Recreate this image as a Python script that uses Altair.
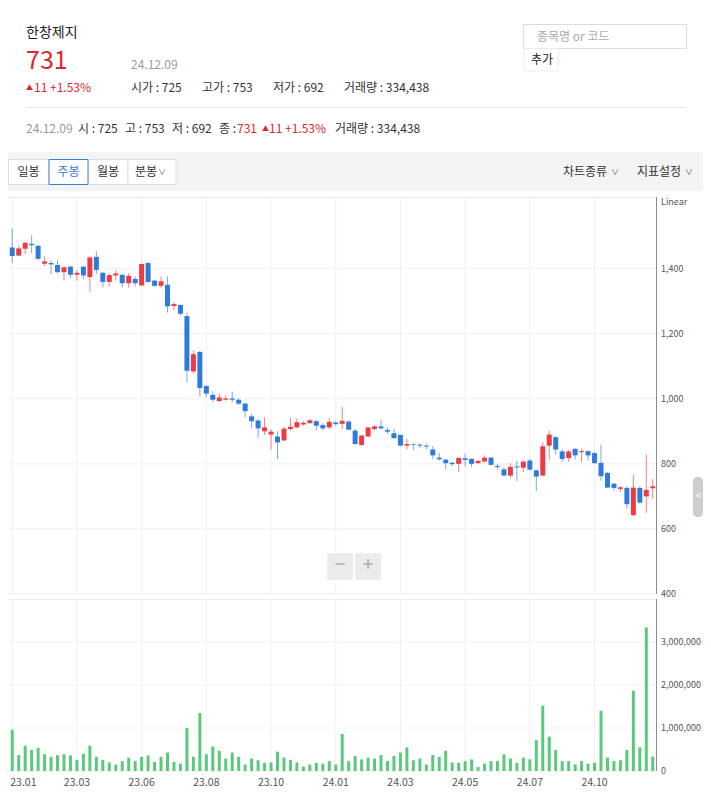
import altair as alt
import pandas as pd

FONT = "Noto Sans CJK KR"
RED = "#ec3b43"
BLUE = "#2f7bdc"
GREEN = "#5bc97c"
TXT_RED = "#e0262d"

# weekly candles 2023-01-16 .. 2024-12-09
dates = [d.strftime("%Y-%m-%d") for d in pd.date_range("2023-01-16", periods=100, freq="7D")]

opens = [1465, 1440, 1461, 1476, 1470, 1415, 1417, 1411, 1389, 1406,
         1381, 1406, 1374, 1436, 1387, 1359, 1379, 1381, 1355, 1368,
         1348, 1417, 1363, 1347, 1350, 1285, 1288, 1254, 1084, 1144,
         1039, 1012, 993, 997, 1001, 997, 985, 946, 933, 900,
         890, 884, 872, 907, 912, 921, 925, 931, 919, 912,
         927, 923, 930, 902, 858, 884, 907, 915, 904, 894,
         889, 856, 861, 859, 856, 844, 819, 813, 803, 800,
         817, 815, 802, 807, 819, 793, 783, 764, 792, 788,
         810, 780, 764, 856, 882, 838, 818, 846, 836, 839,
         833, 803, 772, 739, 723, 726, 642, 726, 700, 725]
highs = [1524, 1469, 1483, 1502, 1472, 1437, 1425, 1425, 1406, 1409,
         1396, 1408, 1439, 1453, 1389, 1386, 1395, 1382, 1386, 1376,
         1416, 1421, 1365, 1376, 1376, 1297, 1290, 1264, 1149, 1147,
         1043, 1023, 1016, 1011, 1022, 1001, 988, 953, 938, 943,
         907, 900, 915, 941, 941, 931, 938, 935, 925, 941,
         931, 976, 933, 907, 889, 914, 919, 936, 912, 907,
         889, 877, 863, 863, 863, 854, 834, 815, 807, 820,
         831, 817, 812, 826, 821, 800, 788, 802, 810, 810,
         815, 782, 866, 902, 885, 846, 843, 848, 846, 841,
         836, 859, 775, 741, 731, 731, 767, 731, 829, 753]
lows = [1418, 1439, 1445, 1447, 1425, 1408, 1384, 1386, 1363, 1371,
        1363, 1369, 1329, 1384, 1342, 1345, 1363, 1342, 1342, 1345,
        1347, 1357, 1345, 1341, 1265, 1272, 1256, 1050, 1078, 1007,
        1004, 989, 991, 994, 989, 981, 943, 909, 880, 889,
        844, 815, 869, 902, 909, 917, 923, 902, 904, 907,
        917, 907, 904, 859, 856, 882, 903, 907, 892, 877,
        854, 844, 843, 848, 844, 815, 810, 783, 792, 775,
        792, 790, 800, 805, 795, 783, 762, 757, 747, 775,
        780, 716, 762, 813, 829, 807, 807, 813, 805, 810,
        800, 749, 726, 718, 713, 662, 640, 677, 649, 692]
closes = [1439, 1462, 1479, 1472, 1430, 1422, 1413, 1389, 1404, 1381,
          1387, 1379, 1434, 1396, 1359, 1380, 1385, 1355, 1378, 1355,
          1414, 1359, 1347, 1361, 1284, 1291, 1261, 1086, 1137, 1033,
          1016, 997, 1004, 1001, 997, 985, 962, 931, 909, 912,
          899, 866, 908, 914, 928, 926, 934, 917, 909, 929,
          922, 932, 905, 861, 887, 912, 915, 909, 899, 879,
          856, 861, 859, 856, 853, 826, 814, 802, 799, 818,
          812, 800, 809, 819, 797, 790, 764, 791, 789, 807,
          782, 761, 854, 890, 844, 815, 838, 826, 839, 826,
          802, 762, 727, 726, 728, 676, 727, 681, 720, 731]
volumes = [960000, 370000, 590000, 490000, 540000, 390000, 330000, 370000, 390000, 360000,
           260000, 400000, 590000, 330000, 260000, 200000, 150000, 230000, 310000, 230000,
           330000, 360000, 210000, 330000, 430000, 210000, 170000, 1000000, 330000, 1350000,
           390000, 570000, 470000, 290000, 430000, 330000, 150000, 290000, 250000, 190000,
           200000, 450000, 310000, 260000, 200000, 100000, 150000, 190000, 170000, 230000,
           150000, 860000, 230000, 350000, 270000, 310000, 290000, 370000, 230000, 350000,
           430000, 550000, 250000, 290000, 150000, 370000, 330000, 470000, 200000, 190000,
           230000, 270000, 90000, 170000, 230000, 230000, 390000, 290000, 190000, 310000,
           270000, 720000, 1520000, 800000, 490000, 230000, 230000, 150000, 230000, 170000,
           190000, 1400000, 310000, 230000, 250000, 490000, 1870000, 550000, 3340000, 334438]

tick_dates = [dates[i] for i in range(0, 100, 10)]
price_ticks = [400, 600, 800, 1000, 1200, 1400]
volume_ticks = [0, 1000000, 2000000, 3000000]

df = pd.DataFrame({"date": dates, "open": opens, "high": highs, "low": lows,
                   "close": closes, "volume": volumes})
df["dir"] = ["up" if c >= o else "down" for o, c in zip(opens, closes)]
ticks_df = pd.DataFrame({"date": tick_dates})
pt_df = pd.DataFrame({"v": price_ticks})
vt_df = pd.DataFrame({"v": volume_ticks})

W, H = 648, 763
P_TOP, P_BOT = 189, 586
V_TOP, V_BOT = 591, 763

xscale = alt.Scale(type="band", domain=dates, range=[1, 648], paddingInner=0, paddingOuter=0)
pscale = alt.Scale(domain=[400, 1620], range=[P_BOT, P_TOP], nice=False, zero=False)
vscale = alt.Scale(domain=[0, 4000000], range=[V_BOT, V_TOP], nice=False, zero=True)
cscale = alt.Scale(domain=["up", "down"], range=[RED, BLUE])

ONE = alt.Data(values=[{"a": 1}])


def X(field="date:O"):
    return alt.X(field, scale=xscale, axis=None)


def text(s, x, y, size=12, color="#333333", align="left", weight="normal"):
    return alt.Chart(ONE).mark_text(
        text=s, align=align, baseline="middle", fontSize=size, color=color,
        font=FONT, fontWeight=weight
    ).encode(x=alt.value(x), y=alt.value(y))


def box(x, x2, y, y2, fill, stroke=None, radius=0):
    kw = dict(fill=fill)
    if stroke:
        kw.update(stroke=stroke, strokeWidth=1)
    if radius:
        kw["cornerRadius"] = radius
    return alt.Chart(ONE).mark_rect(**kw).encode(
        x=alt.value(x), x2=alt.value(x2), y=alt.value(y), y2=alt.value(y2))


def hline(x, x2, y, color):
    return alt.Chart(ONE).mark_rule(color=color, strokeWidth=1).encode(
        x=alt.value(x), x2=alt.value(x2), y=alt.value(y))


def vline(x, y, y2, color):
    return alt.Chart(ONE).mark_rule(color=color, strokeWidth=1).encode(
        x=alt.value(x), y=alt.value(y), y2=alt.value(y2))


# ---------- header ----------
header = [
    box(0, 695, 144, 183, "#f4f4f4"),
    text("한창제지", 18, 25, size=14, color="#222222"),
    text("731", 18, 53, size=25, color=TXT_RED),
    text("24.12.09", 123, 57, size=12, color="#999999"),
    text("▲", 18, 80, size=7, color=TXT_RED),
    text("11 +1.53%", 26, 80, size=12, color=TXT_RED),
    text("시가 : 725", 123, 80),
    text("고가 : 753", 194, 80),
    text("저가 : 692", 265, 80),
    text("거래량 : 334,438", 336, 80),
    hline(18, 678, 99.5, "#e4e4e4"),
    text("24.12.09", 18, 121, color="#999999"),
    text("시 : 725", 70, 121),
    text("고 : 753", 117, 121),
    text("저 : 692", 164, 121),
    text("종 : ", 211, 121),
    text("731", 229, 121, color=TXT_RED),
    text("▲", 254, 121, size=7, color=TXT_RED),
    text("11 +1.53%", 261, 121, color=TXT_RED),
    text("거래량 : 334,438", 327, 121),
    # search box
    box(515.5, 678.5, 16.5, 40.5, "#ffffff", "#dcdcdc"),
    text("종목명 or 코드", 529, 29, color="#aaaaaa"),
    box(516, 550, 40.5, 63, "#ffffff", "#ececec"),
    text("추가", 523, 52, color="#222222"),
    # period buttons
    box(0.5, 41, 151.5, 176.5, "#ffffff", "#dddddd"),
    box(80, 120, 151.5, 176.5, "#ffffff", "#dddddd"),
    box(120, 168, 151.5, 176.5, "#ffffff", "#dddddd"),
    box(41, 80, 151.5, 176.5, "#ffffff", "#3c7fd6"),
    text("일봉", 20.5, 164, align="center"),
    text("주봉", 60.5, 164, align="center", color="#3c7fd6"),
    text("월봉", 100, 164, align="center"),
    text("분봉", 127, 164),
    text("∨", 150, 165, size=8, color="#666666"),
    text("차트종류", 555, 164),
    text("∨", 603, 165, size=8, color="#666666"),
    text("지표설정", 629, 164),
    text("∨", 677, 165, size=8, color="#666666"),
]

# ---------- grids (through the scales) ----------
GRID = "#f0f0f0"
grid_price_v = alt.Chart(ticks_df).mark_rule(color=GRID).encode(
    x=X(), y=alt.value(P_TOP), y2=alt.value(P_BOT))
grid_vol_v = alt.Chart(ticks_df).mark_rule(color=GRID).encode(
    x=X(), y=alt.value(V_TOP), y2=alt.value(V_BOT))
grid_price_h = alt.Chart(pt_df).mark_rule(color=GRID).encode(
    x=alt.value(0), x2=alt.value(W), y=alt.Y("v:Q", scale=pscale, axis=None))
grid_vol_h = alt.Chart(vt_df).mark_rule(color=GRID).encode(
    x=alt.value(0), x2=alt.value(W), y=alt.Y("v:Q", scale=vscale, axis=None))
top_line = hline(0, W, P_TOP + 0.5, "#ececec")
vol_top = hline(0, W, V_TOP + 0.5, "#ececec")

# ---------- candles ----------
base = alt.Chart(df)
wicks = base.mark_rule(strokeWidth=1, opacity=0.65).encode(
    x=X(),
    y=alt.Y("low:Q", scale=pscale, axis=None),
    y2="high:Q",
    color=alt.Color("dir:N", scale=cscale, legend=None))
bodies = base.mark_bar(size=5).encode(
    x=X(),
    y=alt.Y("open:Q", scale=pscale, axis=None),
    y2="close:Q",
    color=alt.Color("dir:N", scale=cscale, legend=None))

# ---------- volume ----------
vol = base.mark_bar(size=3, color=GREEN).encode(
    x=X(),
    y=alt.Y("volume:Q", scale=vscale, axis=None))

# ---------- axes drawn from the scales ----------
AX = "#555555"
price_dom = vline(W + 0.5, P_TOP, P_BOT, "#8c8c8c")
vol_dom = vline(W + 0.5, V_TOP, V_BOT, "#8c8c8c")
price_lab = alt.Chart(pt_df).mark_text(
    align="left", baseline="middle", fontSize=9, color=AX, font=FONT).encode(
    x=alt.value(W + 5), y=alt.Y("v:Q", scale=pscale, axis=None),
    text=alt.Text("v:Q", format=","))
vol_lab = alt.Chart(vt_df).mark_text(
    align="left", baseline="middle", fontSize=9, color=AX, font=FONT).encode(
    x=alt.value(W + 5), y=alt.Y("v:Q", scale=vscale, axis=None),
    text=alt.Text("v:Q", format=","))
LAB = "slice(datum.date, 2, 4) + '.' + slice(datum.date, 5, 7)"
x_lab_first = alt.Chart(ticks_df).transform_filter(
    f"datum.date === '{tick_dates[0]}'").transform_calculate(lab=LAB).mark_text(
    align="left", baseline="middle", fontSize=10.5, color=AX, font=FONT, dx=-2).encode(
    x=X(), y=alt.value(775), text="lab:N")
x_lab_rest = alt.Chart(ticks_df).transform_filter(
    f"datum.date !== '{tick_dates[0]}'").transform_calculate(lab=LAB).mark_text(
    align="center", baseline="middle", fontSize=10.5, color=AX, font=FONT).encode(
    x=X(), y=alt.value(775), text="lab:N")

# ---------- overlays ----------
overlay = [
    text("Linear", W + 5, 194, size=9, color=AX),
    box(319, 345, 545, 572, "#ececec", radius=2),
    box(347, 373, 545, 572, "#ececec", radius=2),
    text("−", 332, 558, size=18, color="#b5b5b5", align="center", weight="bold"),
    text("+", 360, 558, size=18, color="#b5b5b5", align="center", weight="bold"),
    box(685, 695, 469, 509, "#cdcdcd", radius=4),
    text("<", 690.5, 489, size=11, color="#ffffff", align="center"),
]

chart = alt.layer(
    *header, grid_price_v, grid_vol_v, grid_price_h, grid_vol_h, top_line, vol_top,
    wicks, bodies, vol, price_dom, vol_dom, price_lab, vol_lab, x_lab_first, x_lab_rest,
    *overlay
).resolve_scale(y="independent").properties(
    width=W, height=H,
    padding={"left": 0, "top": 0, "right": 47, "bottom": 21},
    autosize=alt.AutoSizeParams(type="none"),
).configure_view(strokeWidth=0)

chart.save("out.html", embed_options={"renderer": "svg", "actions": False})
